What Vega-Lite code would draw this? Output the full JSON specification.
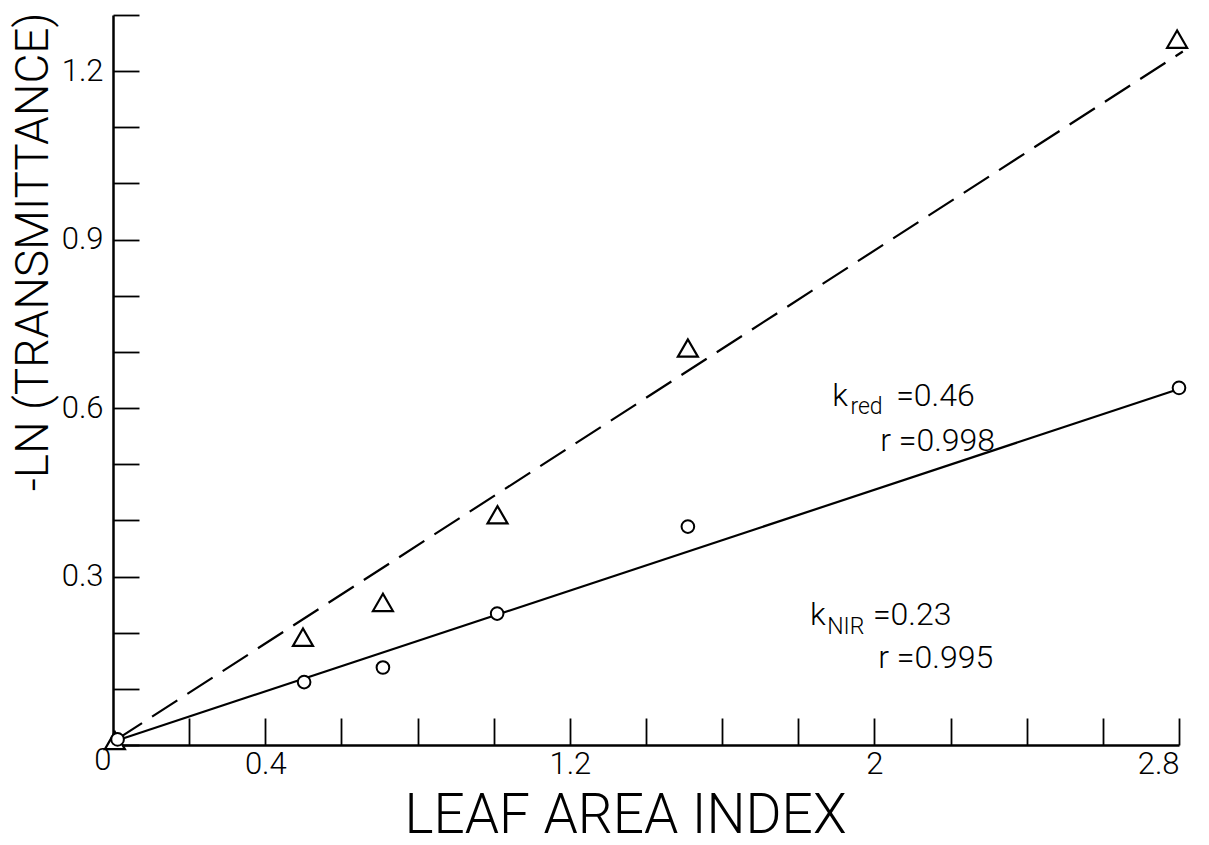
{
  "$schema": "https://vega.github.io/schema/vega-lite/v6.json",
  "width": 1066,
  "height": 730,
  "autosize": {"type": "none"},
  "padding": {"left": 113, "top": 15, "right": 30, "bottom": 100},
  "background": "white",
  "config": {
    "view": {"stroke": null},
    "font": "Roboto",
    "axis": {
      "grid": false,
      "domainColor": "black",
      "domainWidth": 2.5,
      "tickColor": "black",
      "tickWidth": 1.8,
      "labelColor": "black",
      "labelFont": "Roboto",
      "labelFontWeight": 300,
      "labelFontSize": 31,
      "titleColor": "black",
      "titleFont": "Roboto",
      "titleFontWeight": 300
    }
  },
  "datasets": {
    "points": [
      {"series": "red", "x": 0.005, "y": 0.008},
      {"series": "red", "x": 0.499, "y": 0.192},
      {"series": "red", "x": 0.709, "y": 0.254},
      {"series": "red", "x": 1.01, "y": 0.41},
      {"series": "red", "x": 1.51, "y": 0.707},
      {"series": "red", "x": 2.795, "y": 1.257},
      {"series": "nir", "x": 0.012, "y": 0.01},
      {"series": "nir", "x": 0.502, "y": 0.112},
      {"series": "nir", "x": 0.709, "y": 0.138},
      {"series": "nir", "x": 1.009, "y": 0.234},
      {"series": "nir", "x": 1.51, "y": 0.389},
      {"series": "nir", "x": 2.8, "y": 0.636}
    ],
    "fits": [
      {"series": "red", "x": 0.01, "y": 0.01},
      {"series": "red", "x": 2.81, "y": 1.235},
      {"series": "nir", "x": 0.01, "y": 0.008},
      {"series": "nir", "x": 2.8, "y": 0.634}
    ],
    "labels": [
      {"text": "k", "x": 1.889, "y": 0.604},
      {"text": "=0.46", "x": 2.057, "y": 0.604},
      {"text": "r =0.998", "x": 2.015, "y": 0.524},
      {"text": "k", "x": 1.831, "y": 0.213},
      {"text": "=0.23", "x": 1.996, "y": 0.213},
      {"text": "r =0.995", "x": 2.01, "y": 0.137}
    ],
    "subs": [
      {"text": "red", "x": 1.937, "y": 0.589},
      {"text": "NIR", "x": 1.876, "y": 0.198}
    ]
  },
  "encoding": {
    "x": {
      "field": "x",
      "type": "quantitative",
      "scale": {"domain": [0, 2.8], "nice": false, "zero": true},
      "axis": {
        "values": [0.2, 0.4, 0.6, 0.8, 1, 1.2, 1.4, 1.6, 1.8, 2, 2.2, 2.4, 2.6, 2.8],
        "format": "~g",
        "labelExpr": "indexof([0.4, 1.2, 2, 2.8], datum.value) >= 0 ? datum.label : ''",
        "tickSize": -27,
        "labelPadding": 31,
        "title": "LEAF AREA INDEX",
        "titleFontSize": 55,
        "titleX": 512,
        "titleY": 87,
        "titleBaseline": "alphabetic",
        "titleAlign": "center"
      }
    },
    "y": {
      "field": "y",
      "type": "quantitative",
      "scale": {"domain": [0, 1.3], "nice": false, "zero": true},
      "axis": {
        "values": [0, 0.1, 0.2, 0.3, 0.4, 0.5, 0.6, 0.7, 0.8, 0.9, 1, 1.1, 1.2, 1.3],
        "format": "~g",
        "labelExpr": "indexof([0, 0.3, 0.6, 0.9, 1.2], datum.value) >= 0 ? datum.label : ''",
        "tickSize": -26,
        "labelPadding": {"condition": {"test": "datum.value == 0", "value": 28}, "value": 36},
        "labelBaseline": {"condition": {"test": "datum.value == 0", "value": "top"}, "value": "middle"},
        "title": "-LN (TRANSMITTANCE)",
        "titleFontSize": 46,
        "titleX": -66,
        "titleY": -3,
        "titleAngle": 270,
        "titleAlign": "right",
        "titleBaseline": "alphabetic"
      }
    }
  },
  "layer": [
    {
      "data": {"name": "fits"},
      "transform": [{"filter": "datum.series == 'red'"}],
      "mark": {"type": "line", "color": "black", "strokeWidth": 2.2, "strokeDash": [30, 12]}
    },
    {
      "data": {"name": "fits"},
      "transform": [{"filter": "datum.series == 'nir'"}],
      "mark": {"type": "line", "color": "black", "strokeWidth": 2.2}
    },
    {
      "data": {"name": "points"},
      "transform": [{"filter": "datum.series == 'red'"}],
      "mark": {"type": "point", "shape": "triangle-up", "size": 400, "filled": true, "fill": "white", "stroke": "black", "strokeWidth": 2.2, "opacity": 1}
    },
    {
      "data": {"name": "points"},
      "transform": [{"filter": "datum.series == 'nir'"}],
      "mark": {"type": "point", "shape": "circle", "size": 160, "filled": true, "fill": "white", "stroke": "black", "strokeWidth": 2, "opacity": 1}
    },
    {
      "data": {"name": "labels"},
      "mark": {"type": "text", "align": "left", "baseline": "alphabetic", "fontSize": 32, "font": "Roboto", "fontWeight": 300, "color": "black"},
      "encoding": {"text": {"field": "text"}}
    },
    {
      "data": {"name": "subs"},
      "mark": {"type": "text", "align": "left", "baseline": "alphabetic", "fontSize": 23, "font": "Roboto", "fontWeight": 300, "color": "black"},
      "encoding": {"text": {"field": "text"}}
    }
  ]
}
